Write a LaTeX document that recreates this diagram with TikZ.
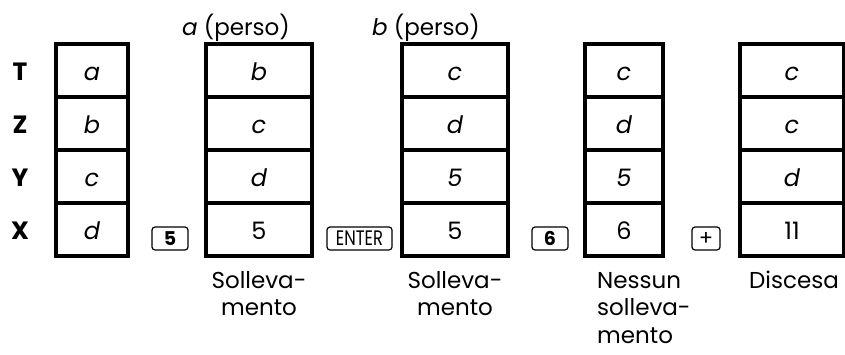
\documentclass[tikz,border=0pt]{standalone}
\usepackage{fontspec}
\setmainfont{Poppins}
\usetikzlibrary{positioning}

\tikzset{
	cell/.style={draw, line width=4pt, minimum height=53pt, inner sep=0pt,
		text height=19pt, text depth=0pt, font=\fontsize{24}{27.5}\selectfont},
	reg/.style={inner sep=0pt, text height=19pt, text depth=0pt,
		font=\bfseries\fontsize{25}{27.5}\selectfont},
	keycap/.style={draw, line width=1.2pt, rounded corners=3pt, minimum height=23pt,
		inner sep=0pt, font=\bfseries\fontsize{19}{22}\selectfont},
	note/.style={inner sep=0pt, font=\fontsize{23}{27.5}\selectfont}
}

\begin{document}
\begin{tikzpicture}[x=1pt, y=-1pt]
	\useasboundingbox (0,0) rectangle (845,354);
	% register names
	\foreach \r [count=\i] in {T,Z,Y,X}
		\node[reg] (reg\r) at (20,{17.5+53*\i}) {\r};
	% stacks
	\foreach \v [count=\i] in {\textit{a},\textit{b},\textit{c},\textit{d}}
		\node[cell, minimum width=72pt] (sa\i) at (92,{17.5+53*\i}) {\v};
	\foreach \v [count=\i] in {\textit{b},\textit{c},\textit{d},5}
		\node[cell, minimum width=106pt] (sb\i) at (259,{17.5+53*\i}) {\v};
	\foreach \v [count=\i] in {\textit{c},\textit{d},\textit{5},5}
		\node[cell, minimum width=106pt] (sc\i) at (455,{17.5+53*\i}) {\v};
	\foreach \v [count=\i] in {\textit{c},\textit{d},\textit{5},6}
		\node[cell, minimum width=78pt] (sd\i) at (624,{17.5+53*\i}) {\v};
	\foreach \v [count=\i] in {\textit{c},\textit{c},\textit{d},11}
		\node[cell, minimum width=104pt] (se\i) at (792,{17.5+53*\i}) {\v};
	% keys
	\node[keycap, minimum width=36pt] (keyfive) at (170,238.5) {5};
	\node[keycap, minimum width=65pt, font=\fontsize{21}{22}\selectfont] (keyenter) at (359.5,238.5) {\scalebox{0.78}[1]{ENTER}};
	\node[keycap, minimum width=28pt, font=\fontsize{21}{22}\selectfont] (keyplus) at (706,238.5) {+};
	\node[keycap, minimum width=36pt] (keysix) at (550,238.5) {6};
	% lost values
	\node[note, anchor=base west] (lostb) at (182,35) {\textit{a} (perso)};
	\node[note, anchor=base west] (lostc) at (372,35) {\textit{b} (perso)};
	% stack lift notes (anchored at the last line)
	\node[note, align=center, anchor=base] (liftb) at (259,315.5) {Solleva-\\mento};
	\node[note, align=center, anchor=base] (liftc) at (455,315.5) {Solleva-\\mento};
	\node[note, align=left, anchor=base west] (liftd) at (597,343) {Nessun\\solleva-\\mento};
	\node[note, anchor=base] (drope) at (794,288) {Discesa};
\end{tikzpicture}
\end{document}
